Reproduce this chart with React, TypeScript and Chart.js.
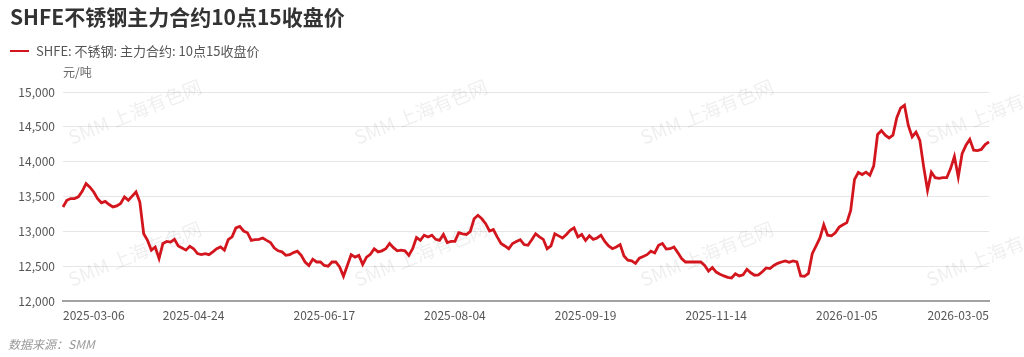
import React, { useEffect, useRef } from 'react';
import { Chart, registerables } from 'chart.js';

Chart.register(...registerables);

const TITLE = 'SHFE不锈钢主力合约10点15收盘价';
const SERIES_NAME = 'SHFE: 不锈钢: 主力合约: 10点15收盘价';
const UNIT = '元/吨';
const SOURCE = '数据来源：SMM';
const WATERMARK = 'SMM 上海有色网';

const dates = [
  '2025-03-06','2025-03-07','2025-03-10','2025-03-11','2025-03-12','2025-03-13','2025-03-14','2025-03-17','2025-03-18','2025-03-19',
  '2025-03-20','2025-03-21','2025-03-24','2025-03-25','2025-03-26','2025-03-27','2025-03-28','2025-03-31',
  '2025-04-01','2025-04-02','2025-04-03','2025-04-07','2025-04-08','2025-04-09','2025-04-10','2025-04-11','2025-04-14','2025-04-15',
  '2025-04-16','2025-04-17','2025-04-18','2025-04-21','2025-04-22','2025-04-23','2025-04-24','2025-04-25','2025-04-28','2025-04-29','2025-04-30',
  '2025-05-06','2025-05-07','2025-05-08','2025-05-09','2025-05-12','2025-05-13','2025-05-14','2025-05-15','2025-05-16','2025-05-19',
  '2025-05-20','2025-05-21','2025-05-22','2025-05-23','2025-05-26','2025-05-27','2025-05-28','2025-05-29','2025-05-30',
  '2025-06-03','2025-06-04','2025-06-05','2025-06-06','2025-06-09','2025-06-10','2025-06-11','2025-06-12','2025-06-13','2025-06-16',
  '2025-06-17','2025-06-18','2025-06-19','2025-06-20','2025-06-23','2025-06-24','2025-06-25','2025-06-26','2025-06-27','2025-06-30',
  '2025-07-01','2025-07-02','2025-07-03','2025-07-04','2025-07-07','2025-07-08','2025-07-09','2025-07-10','2025-07-11','2025-07-14',
  '2025-07-15','2025-07-16','2025-07-17','2025-07-18','2025-07-21','2025-07-22','2025-07-23','2025-07-24','2025-07-25','2025-07-28',
  '2025-07-29','2025-07-30','2025-07-31',
  '2025-08-01','2025-08-04','2025-08-05','2025-08-06','2025-08-07','2025-08-08','2025-08-11','2025-08-12','2025-08-13','2025-08-14',
  '2025-08-15','2025-08-18','2025-08-19','2025-08-20','2025-08-21','2025-08-22','2025-08-25','2025-08-26','2025-08-27','2025-08-28','2025-08-29',
  '2025-09-01','2025-09-02','2025-09-03','2025-09-04','2025-09-05','2025-09-08','2025-09-09','2025-09-10','2025-09-11','2025-09-12',
  '2025-09-15','2025-09-16','2025-09-17','2025-09-18','2025-09-19','2025-09-22','2025-09-23','2025-09-24','2025-09-25','2025-09-26',
  '2025-09-29','2025-09-30',
  '2025-10-09','2025-10-10','2025-10-13','2025-10-14','2025-10-15','2025-10-16','2025-10-17','2025-10-20','2025-10-21','2025-10-22',
  '2025-10-23','2025-10-24','2025-10-27','2025-10-28','2025-10-29','2025-10-30','2025-10-31',
  '2025-11-03','2025-11-04','2025-11-05','2025-11-06','2025-11-07','2025-11-10','2025-11-11','2025-11-12','2025-11-13','2025-11-14',
  '2025-11-17','2025-11-18','2025-11-19','2025-11-20','2025-11-21','2025-11-24','2025-11-25','2025-11-26','2025-11-27','2025-11-28',
  '2025-12-01','2025-12-02','2025-12-03','2025-12-04','2025-12-05','2025-12-08','2025-12-09','2025-12-10','2025-12-11','2025-12-12',
  '2025-12-15','2025-12-16','2025-12-17','2025-12-18','2025-12-19','2025-12-22','2025-12-23','2025-12-24','2025-12-25','2025-12-26',
  '2025-12-29','2025-12-30','2025-12-31',
  '2026-01-05','2026-01-06','2026-01-07','2026-01-08','2026-01-09','2026-01-12','2026-01-13','2026-01-14','2026-01-15','2026-01-16',
  '2026-01-19','2026-01-20','2026-01-21','2026-01-22','2026-01-23','2026-01-26','2026-01-27','2026-01-28','2026-01-29','2026-01-30',
  '2026-02-02','2026-02-03','2026-02-04','2026-02-05','2026-02-06','2026-02-09','2026-02-10','2026-02-11','2026-02-12','2026-02-13',
  '2026-02-24','2026-02-25','2026-02-26','2026-02-27',
  '2026-03-02','2026-03-03','2026-03-04','2026-03-05',
];

const prices = [
  13350,13445,13470,13470,13495,13575,13685,13635,13565,13470,
  13410,13430,13385,13350,13365,13400,13495,13445,13505,13565,
  13420,12965,12870,12730,12775,12610,12825,12855,12845,12885,
  12790,12760,12730,12785,12750,12680,12665,12680,12665,12705,
  12750,12775,12730,12880,12920,13050,13070,13005,12980,12870,
  12880,12885,12905,12870,12840,12760,12720,12705,12655,12665,
  12695,12715,12655,12560,12510,12600,12560,12560,12510,12500,
  12560,12560,12490,12355,12510,12665,12630,12655,12525,12630,
  12670,12750,12705,12720,12750,12825,12765,12720,12730,12720,
  12655,12750,12910,12870,12945,12920,12945,12885,12870,12955,
  12840,12855,12855,12980,12965,12955,13000,13180,13230,13180,
  13110,13005,13025,12920,12825,12790,12750,12825,12855,12880,
  12810,12800,12880,12965,12920,12885,12750,12790,12965,12935,
  12905,12955,13015,13050,12920,12955,12870,12935,12885,12905,
  12945,12855,12790,12750,12775,12810,12645,12585,12575,12540,
  12615,12640,12665,12715,12690,12800,12825,12745,12750,12775,
  12695,12610,12560,12560,12560,12560,12560,12510,12430,12480,
  12415,12385,12360,12340,12330,12390,12360,12375,12455,12405,
  12370,12375,12420,12475,12465,12510,12540,12560,12575,12555,
  12575,12560,12360,12355,12395,12680,12790,12905,13095,12945,
  12935,12980,13060,13095,13125,13300,13745,13845,13815,13850,
  13805,13940,14390,14445,14380,14340,14380,14630,14770,14810,
  14520,14355,14425,14305,13925,13590,13850,13770,13760,13770,
  13770,13900,14075,13780,14115,14235,14320,14165,14160,14175,
  14245,14285,
];

const xTickIndices = [0, 34, 68, 102, 136, 170, 204, 241];
const yTickValues = [12000, 12500, 13000, 13500, 14000, 14500, 15000];

const FONT = '"Microsoft YaHei", "Noto Sans CJK SC", "Noto Sans", sans-serif';
const LINE_COLOR = '#d3161e';

const decorPlugin = {
  id: 'decor',
  beforeDatasetsDraw(chart: any) {
    const ctx = chart.ctx as CanvasRenderingContext2D;
    ctx.save();
    ctx.font = `19px ${FONT}`;
    ctx.fillStyle = 'rgba(0,0,0,0.065)';
    ctx.textAlign = 'left';
    ctx.textBaseline = 'alphabetic';
    const cols = [72, 358, 644, 930];
    const rows = [145, 287];
    for (const x of cols) {
      for (const y of rows) {
        ctx.save();
        ctx.translate(x, y);
        ctx.rotate((-22 * Math.PI) / 180);
        ctx.fillText(WATERMARK, 0, 0);
        ctx.restore();
      }
    }
    ctx.restore();
  },
  afterDraw(chart: any) {
    const ctx = chart.ctx as CanvasRenderingContext2D;
    ctx.save();
    ctx.textAlign = 'left';
    ctx.textBaseline = 'middle';
    ctx.font = `bold 21px ${FONT}`;
    ctx.fillStyle = '#333333';
    ctx.fillText(TITLE, 10, 17);
    ctx.strokeStyle = LINE_COLOR;
    ctx.lineWidth = 2;
    ctx.beginPath();
    ctx.moveTo(10, 51);
    ctx.lineTo(29, 51);
    ctx.stroke();
    ctx.font = `13px ${FONT}`;
    ctx.fillStyle = '#555555';
    ctx.fillText(SERIES_NAME, 36, 51);
    ctx.font = `12px ${FONT}`;
    ctx.fillStyle = '#666666';
    ctx.fillText(UNIT, 63, 72);
    ctx.font = `italic 12px ${FONT}`;
    ctx.fillStyle = '#999999';
    ctx.fillText(SOURCE, 8, 344);
    ctx.restore();
  },
};

export default function App() {
  const ref = useRef<HTMLCanvasElement>(null);
  useEffect(() => {
    if (!ref.current) return;
    Chart.defaults.font.family = FONT;
    const chart = new Chart(ref.current, {
      type: 'line',
      data: {
        labels: dates,
        datasets: [
          {
            label: SERIES_NAME,
            data: prices,
            borderColor: LINE_COLOR,
            backgroundColor: LINE_COLOR,
            borderWidth: 2.8,
            pointRadius: 0,
            tension: 0,
            fill: false,
          },
        ],
      },
      options: {
        animation: false,
        responsive: true,
        maintainAspectRatio: false,
        layout: { padding: { top: 92, right: 35, left: 0, bottom: 0 } },
        plugins: {
          legend: { display: false },
          title: { display: false },
          tooltip: { enabled: false },
        },
        scales: {
          x: {
            type: 'category',
            offset: false,
            grid: { display: false, drawTicks: false },
            border: { display: true, color: '#a3a3a3', width: 2 },
            afterBuildTicks: (s: any) => {
              s.ticks = xTickIndices.map((v) => ({ value: v }));
            },
            afterFit: (s: any) => {
              s.height = 56;
            },
            ticks: {
              autoSkip: false,
              maxRotation: 0,
              minRotation: 0,
              align: 'inner',
              padding: 7,
              color: '#555555',
              font: { size: 12 },
            },
          },
          y: {
            min: 12000,
            max: 15000,
            afterBuildTicks: (s: any) => {
              s.ticks = yTickValues.map((v) => ({ value: v }));
            },
            afterFit: (s: any) => {
              s.width = 63;
            },
            grid: { color: '#e6e6e6', drawTicks: false, lineWidth: 1 },
            border: { display: false },
            ticks: {
              padding: 8,
              color: '#555555',
              font: { size: 12 },
              callback: (v: any) => Number(v).toLocaleString('en-US'),
            },
          },
        },
      } as any,
      plugins: [decorPlugin],
    });
    return () => chart.destroy();
  }, []);
  return (
    <div style={{ position: 'absolute', left: 0, top: 0, width: 1024, height: 357, background: '#fff' }}>
      <canvas ref={ref} />
    </div>
  );
}
